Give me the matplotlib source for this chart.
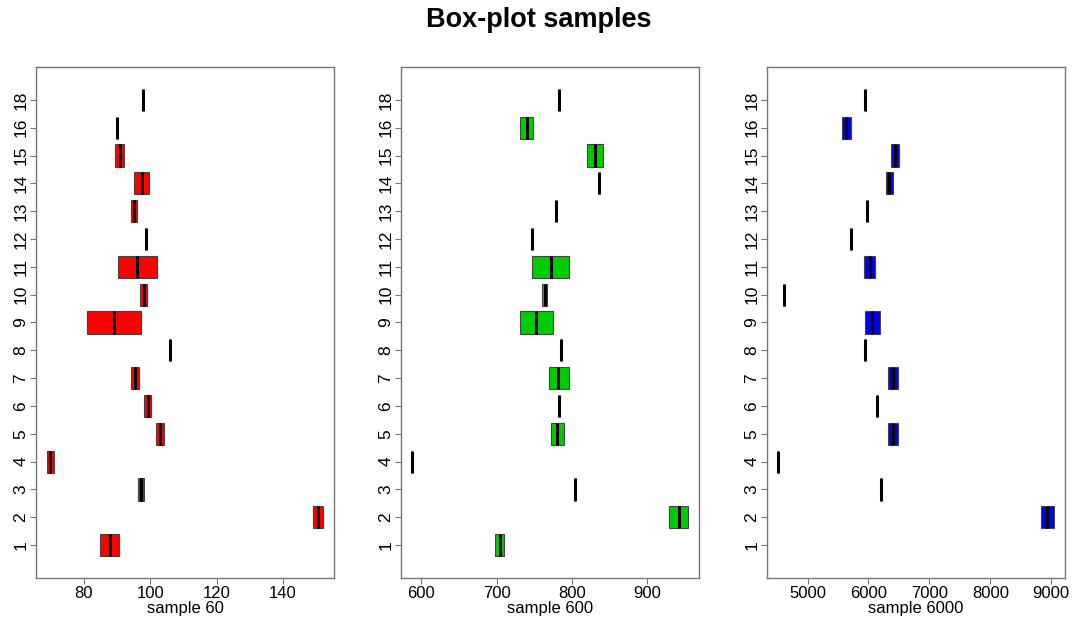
import numpy as np
import matplotlib
matplotlib.use("Agg")
import matplotlib.pyplot as plt

plt.rcParams['font.family'] = ['Liberation Sans', 'DejaVu Sans']

# group labels (y axis), bottom to top
groups = ['1', '2', '3', '4', '5', '6', '7', '8', '9', '10',
          '11', '12', '13', '14', '15', '16', '18']

# sample 60: lower hinge, median, upper hinge
s60_q1 = [85.0, 149.1, 96.2, 68.9, 101.9, 98.2, 94.1, 106.1, 80.9, 97.0,
          90.2, 98.8, 94.1, 95.2, 89.5, 90.1, 97.9]
s60_med = [87.8, 150.5, 97.2, 69.9, 103.0, 99.2, 95.3, 106.1, 89.2, 98.0,
           96.0, 98.8, 95.1, 97.4, 90.9, 90.1, 97.9]
s60_q3 = [90.7, 152.1, 98.2, 71.0, 104.1, 100.2, 96.6, 106.1, 97.2, 99.0,
          102.0, 98.8, 96.1, 99.5, 92.1, 90.1, 97.9]

# sample 600
s600_q1 = [698, 929, 804, 587.5, 772, 783.5, 769.6, 785.7, 730.8, 760.7,
           746.9, 747.3, 778.6, 836.6, 819.6, 730.8, 783.0]
s600_med = [704, 942, 804, 587.5, 780.4, 783.5, 782.1, 785.7, 752.7, 763.8,
            772.3, 747.3, 778.6, 836.6, 830.4, 740.6, 783.0]
s600_q3 = [710.3, 954.5, 804, 587.5, 789.3, 783.5, 796.4, 785.7, 774.6, 767.4,
           796.4, 747.3, 778.6, 836.6, 841.5, 748.2, 783.0]

# sample 6000 (group 1 has no value)
s6000_q1 = [None, 8824, 6209, 4516, 6319, 6148, 6319, 5950, 5951, 4621,
            5934, 5720, 5978, 6286, 6374, 5566, 5950]
s6000_med = [None, 8934, 6209, 4516, 6396, 6148, 6396, 5950, 6060, 4621,
             6027, 5720, 5978, 6341, 6429, 5632, 5950]
s6000_q3 = [None, 9044, 6209, 4516, 6478, 6148, 6478, 5950, 6187, 4621,
            6115, 5720, 5978, 6396, 6495, 5720, 5950]

panels = [
    ("sample 60", s60_q1, s60_med, s60_q3, "#ff0000", [80, 100, 120, 140]),
    ("sample 600", s600_q1, s600_med, s600_q3, "#00cd00", [600, 700, 800, 900]),
    ("sample 6000", s6000_q1, s6000_med, s6000_q3, "#0000f0",
     [5000, 6000, 7000, 8000, 9000]),
]

W, H = 1073, 617
fig = plt.figure(figsize=(W / 100, H / 100), dpi=100)
lefts = [36, 401, 767]
frame = "#777777"

for left, (xlab, q1, med, q3, col, xt) in zip(lefts, panels):
    ax = fig.add_axes([left / W, 1 - 578 / H, 298 / W, 511 / H])
    stats, pos = [], []
    for i, (a, m, b) in enumerate(zip(q1, med, q3)):
        if m is None:
            continue
        stats.append(dict(q1=a, med=m, q3=b, whislo=a, whishi=b, fliers=[]))
        pos.append(i + 1)
    ax.bxp(stats, positions=pos, vert=False, widths=0.8, patch_artist=True,
           showcaps=False, showfliers=False,
           boxprops=dict(facecolor=col, edgecolor="#444444", linewidth=0.8),
           medianprops=dict(color="black", linewidth=2.2, solid_capstyle="butt"),
           whiskerprops=dict(linewidth=0))
    vals = [v for v in q1 + q3 if v is not None]
    lo, hi = min(vals), max(vals)
    pad = 0.04 * (hi - lo)
    ax.set_xlim(lo - pad, hi + pad)
    n = len(groups)
    ax.set_ylim(0.5 - 0.04 * n, n + 0.5 + 0.04 * n)
    ax.set_yticks(np.arange(1, n + 1))
    ax.set_yticklabels(groups, rotation=90, va="center", fontsize=12.5)
    ax.set_xticks(xt)
    ax.set_xticklabels([str(t) for t in xt], fontsize=12)
    ax.set_xlabel(xlab, fontsize=12, va="bottom")
    ax.xaxis.set_label_coords(0.5, -38 / 511)
    ax.tick_params(direction="out", length=4, color=frame, width=0.8, pad=1.5)
    for s in ax.spines.values():
        s.set_color(frame)
        s.set_linewidth(1.0)

fig.text(539 / W, 1 - 20 / H, "Box-plot samples", ha="center", va="center",
         fontsize=19.5, fontweight="bold")

fig.savefig("out.png", dpi=100)
